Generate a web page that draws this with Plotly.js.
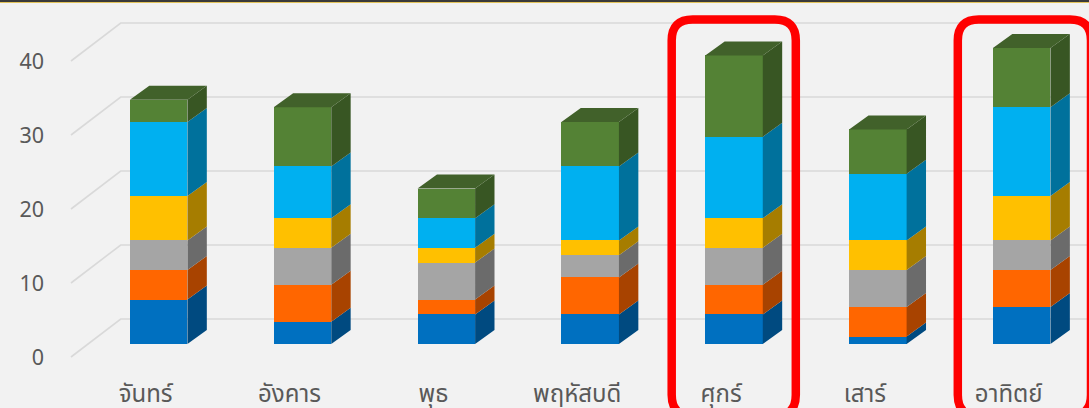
<!DOCTYPE html>
<html>
<head>
<meta charset="utf-8">
<script src="https://cdn.plot.ly/plotly-3.0.1.min.js"></script>
<style>html,body{margin:0;padding:0;background:#F2F2F2;}#chart{width:1089px;height:408px;}</style>
</head>
<body>
<div id="chart"></div>
<script>
// ---- data ----
const days = ['จันทร์', 'อังคาร', 'พุธ', 'พฤหัสบดี', 'ศุกร์', 'เสาร์', 'อาทิตย์'];
const seriesBlue   = [6, 3, 4, 4, 4, 1, 5];
const seriesOrange = [4, 5, 2, 5, 4, 4, 5];
const seriesGray   = [4, 5, 5, 3, 5, 5, 4];
const seriesYellow = [6, 4, 2, 2, 4, 4, 6];
const seriesCyan   = [10, 7, 4, 10, 11, 9, 12];
const seriesGreen  = [3, 8, 4, 6, 11, 6, 8];
const yTicks = [0, 10, 20, 30, 40];
const highlighted = ['ศุกร์', 'อาทิตย์'];

// ---- styling ----
const series = [seriesBlue, seriesOrange, seriesGray, seriesYellow, seriesCyan, seriesGreen];
const frontColors = ['#0070C0', '#FF6600', '#A5A5A5', '#FFC000', '#00B0F0', '#548235'];
const sideColors  = ['#004A80', '#A84300', '#6B6B6B', '#A67D00', '#00719C', '#385623'];
const topColor = '#41612A';

const W = 1089, H = 408;
const M = {l: 50, r: 0, t: 5, b: 43};
const plotW = W - M.l - M.r, plotH = H - M.t - M.b;
// pixel scale: category spacing 143.84 px, 7.4 px per unit
const xSpan = plotW / 143.84, ySpan = plotH / 7.4;
const x0 = -(158.65 - M.l) / 143.84;
const y0 = -(H - M.b - 344) / 7.4;
const xRange = [x0, x0 + xSpan];
const yRange = [y0, y0 + ySpan];

const barW = 0.4;
const depthX = 19.4 / 143.84;   // 3-D depth offset in x units
const depthY = 14 / 7.4;        // 3-D depth offset in y units
const xs = days.map((d, i) => i);

const traces = [];
// front faces
series.forEach((s, k) => {
  traces.push({
    type: 'bar', x: xs, y: s, width: barW,
    marker: {color: frontColors[k], line: {width: 0}},
    hoverinfo: 'skip', showlegend: false
  });
});
// side faces and top faces
const cum = days.map(() => 0);
series.forEach((s, k) => {
  const px = [], py = [];
  s.forEach((v, i) => {
    const lo = cum[i], hi = cum[i] + v;
    const xr = i + barW / 2;
    px.push(xr, xr + depthX, xr + depthX, xr, xr, null);
    py.push(lo, lo + depthY, hi + depthY, hi, lo, null);
    cum[i] = hi;
  });
  traces.push({
    type: 'scatter', mode: 'lines', x: px, y: py, fill: 'toself',
    fillcolor: sideColors[k], line: {width: 0, color: sideColors[k]},
    hoverinfo: 'skip', showlegend: false
  });
});
{
  const px = [], py = [];
  cum.forEach((top, i) => {
    const xl = i - barW / 2, xr = i + barW / 2;
    px.push(xl, xl + depthX, xr + depthX, xr, xl, null);
    py.push(top, top + depthY, top + depthY, top, top, null);
  });
  traces.push({
    type: 'scatter', mode: 'lines', x: px, y: py, fill: 'toself',
    fillcolor: topColor, line: {width: 0, color: topColor},
    hoverinfo: 'skip', showlegend: false
  });
}

// back-wall gridlines
const shapes = [];
const backDX = (120.7 - 158.65) / 143.84, backDY = 25 / 7.4;
const frontDX = (71 - 158.65) / 143.84, frontDY = -13 / 7.4;
yTicks.forEach(v => {
  shapes.push({
    type: 'path', xref: 'x', yref: 'y', layer: 'below',
    path: `M ${frontDX},${v + frontDY} L ${backDX},${v + backDY} L ${xRange[1] + 1},${v + backDY}`,
    line: {color: '#D9D9D9', width: 1.6}
  });
});

// highlight boxes (pixel geometry -> paper coords)
const pxX = x => (x - M.l) / plotW;
const pxY = y => (H - M.b - y) / plotH;
function roundRect(L, R, T, B, r) {
  const p = (x, y) => `${pxX(x)},${pxY(y)}`;
  return `M ${p(L + r, T)} L ${p(R - r, T)} Q ${p(R, T)} ${p(R, T + r)} L ${p(R, B - r)} Q ${p(R, B)} ${p(R - r, B)} ` +
         `L ${p(L + r, B)} Q ${p(L, B)} ${p(L, B - r)} L ${p(L, T + r)} Q ${p(L, T)} ${p(L + r, T)} Z`;
}
const boxGeom = {'ศุกร์': [671.7, 795.8], 'อาทิตย์': [957.8, 1091]};
highlighted.forEach(d => {
  const g = boxGeom[d];
  shapes.push({
    type: 'path', xref: 'paper', yref: 'paper', layer: 'above',
    path: roundRect(g[0], g[1], 19.5, 416, 21),
    line: {color: '#FF0000', width: 8.5}, fillcolor: 'rgba(0,0,0,0)'
  });
});
// top border
shapes.push({type: 'rect', xref: 'paper', yref: 'paper', x0: pxX(-5), x1: pxX(W + 5), y0: pxY(0), y1: pxY(-5),
  fillcolor: '#2B2B2B', line: {width: 0}, layer: 'above'});
shapes.push({type: 'line', xref: 'paper', yref: 'paper', x0: pxX(-5), x1: pxX(W + 5), y0: pxY(2.5), y1: pxY(2.5),
  line: {color: '#E2C35A', width: 1.2}, layer: 'above'});
shapes.push({type: 'line', xref: 'paper', yref: 'paper', x0: pxX(-5), x1: pxX(W + 5), y0: pxY(1), y1: pxY(1),
  line: {color: '#3A3A3A', width: 2}, layer: 'above'});

const layout = {
  width: W, height: H,
  margin: M,
  paper_bgcolor: '#F2F2F2', plot_bgcolor: '#F2F2F2',
  barmode: 'stack', showlegend: false,
  font: {family: 'Noto Sans, "Noto Sans Thai", Tahoma, "DejaVu Sans", sans-serif', color: '#595959'},
  xaxis: {
    range: xRange, tickvals: xs, ticktext: days, showgrid: false, zeroline: false, showline: false,
    ticks: '', ticklabelshift: -13, ticklabelstandoff: 12, tickfont: {size: 24, color: '#595959'}, fixedrange: true
  },
  yaxis: {
    range: yRange, tickvals: yTicks, showgrid: false, zeroline: false, showline: false,
    ticks: '', ticklabelshift: 13, ticklabelstandoff: 5, tickfont: {size: 21.5, color: '#595959'}, fixedrange: true
  },
  shapes: shapes
};

Plotly.newPlot('chart', traces, layout, {displayModeBar: false, staticPlot: true});
</script>
</body>
</html>
